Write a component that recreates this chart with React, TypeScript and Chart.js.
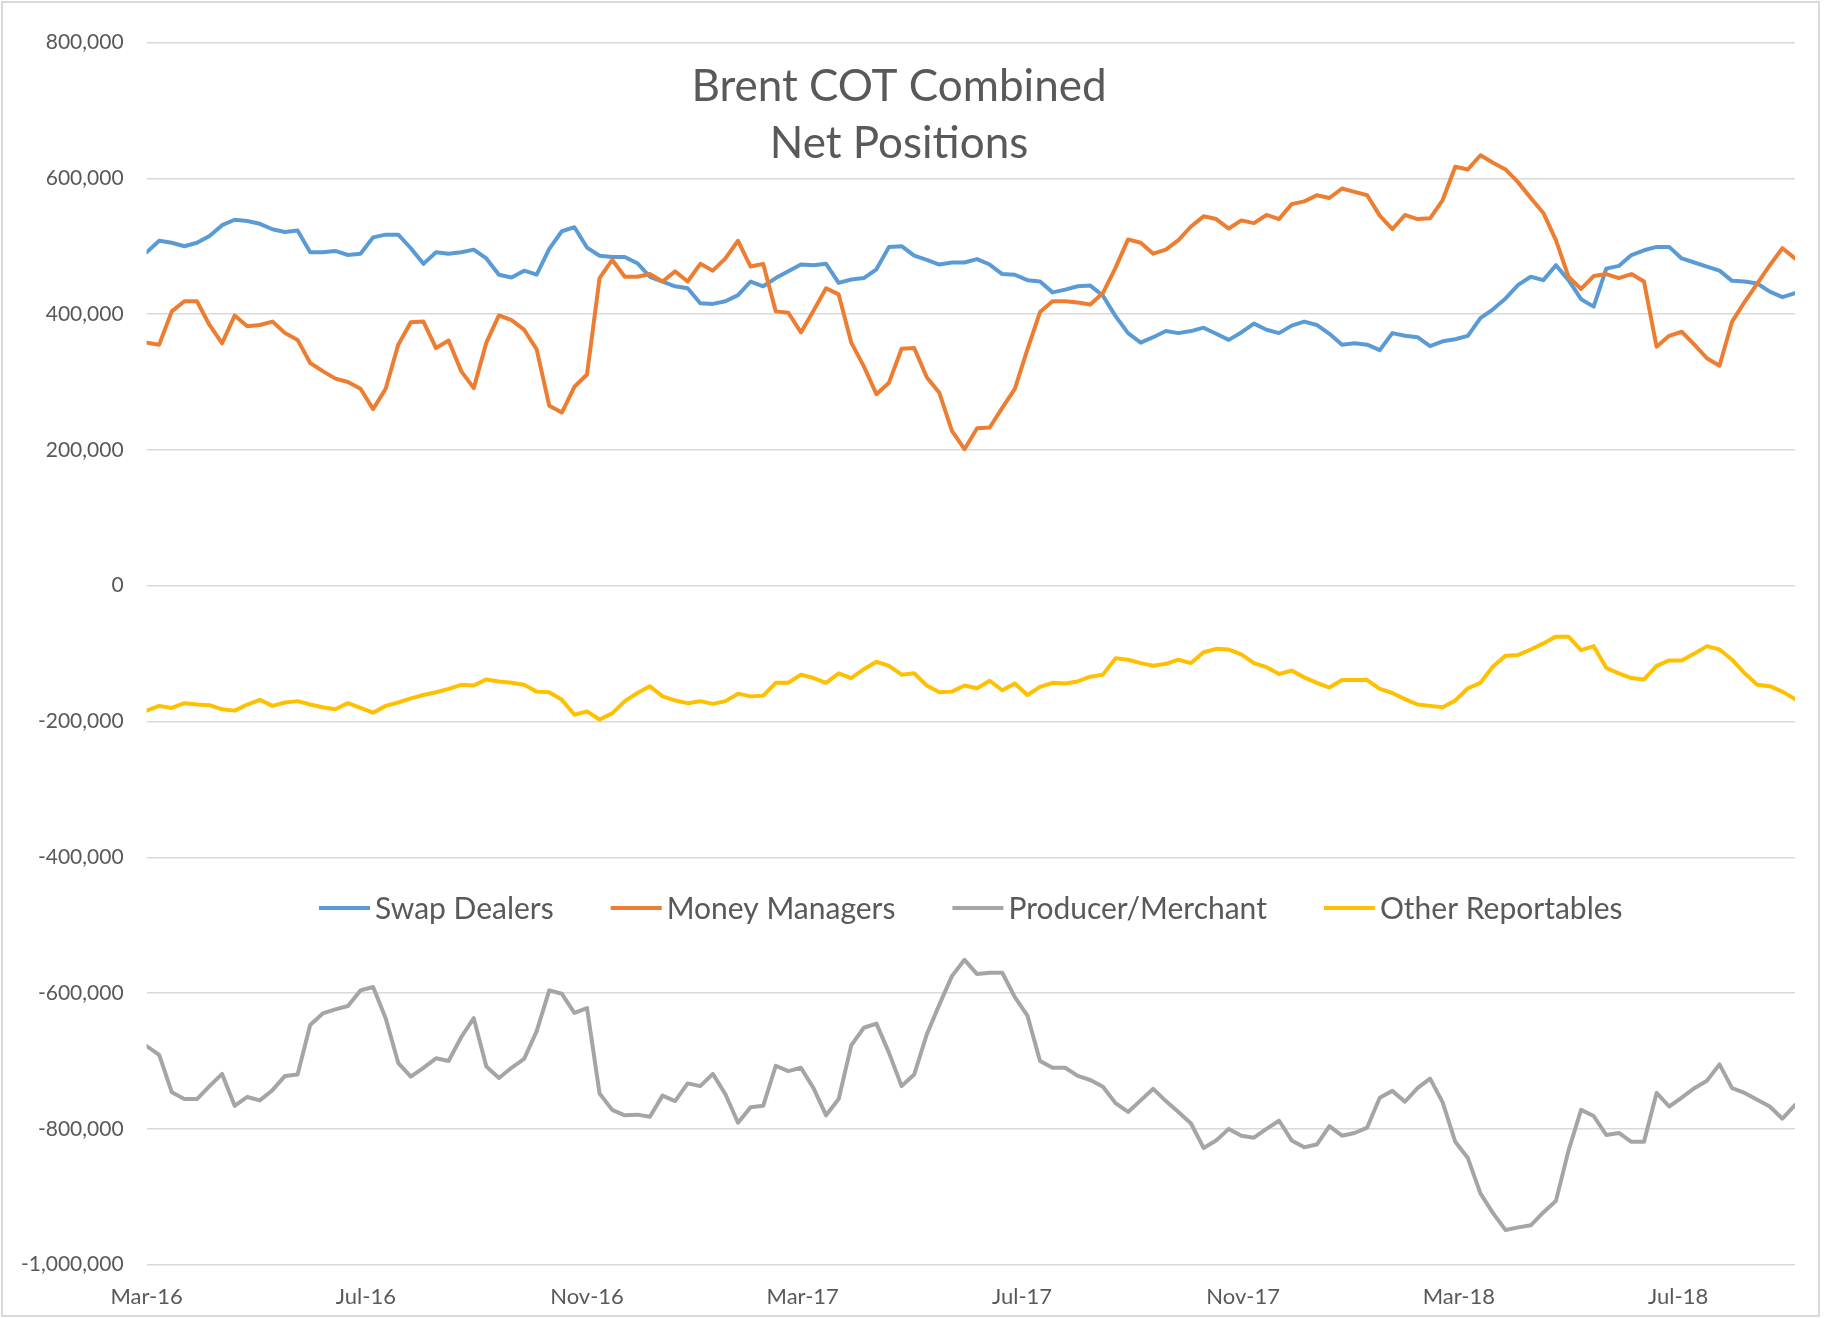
import React, { useEffect, useRef } from 'react';
import { Chart, registerables } from 'chart.js';

Chart.register(...registerables);

// ---------- data (net positions, thousands of lots, weekly from first week) ----------
const firstWeek = '2016-03-01';
const xTickLabels = ['Mar-16', 'Jul-16', 'Nov-16', 'Mar-17', 'Jul-17', 'Nov-17', 'Mar-18', 'Jul-18'];
const yAxisMin = -1000000;
const yAxisMax = 800000;
const yAxisStep = 200000;
const titleLines = ['Brent COT Combined', 'Net Positions'];
const seriesNames = ['Swap Dealers', 'Money Managers', 'Producer/Merchant', 'Other Reportables'];
const seriesColors = ['#5B9BD5', '#ED7D31', '#A5A5A5', '#FFC000'];

const swapDealers = [
  491, 508, 505, 500, 505, 515, 531, 539, 537, 533,
  525, 521, 523, 491, 491, 493, 487, 489, 513, 517,
  517, 497, 474, 491, 489, 491, 495, 482, 458, 454,
  464, 458, 496, 522, 528, 498, 486, 484, 484, 475,
  455, 448, 441, 438, 416, 415, 419, 428, 448, 441,
  453, 463, 473, 472, 474, 446, 451, 453, 466, 499,
  500, 486, 480, 473, 476, 476, 481, 473, 459, 458,
  450, 448, 432, 436, 441, 442, 427, 397, 372, 358,
  366, 375, 372, 375, 380, 371, 362, 373, 386, 377,
  372, 383, 389, 384, 371, 355, 357, 355, 347, 372,
  368, 366, 353, 360, 363, 368, 394, 407, 423, 443,
  455, 450, 472, 450, 422, 411, 467, 471, 487, 494,
  499, 499, 482, 476, 470, 464, 449, 448, 445, 433,
  425, 431,
];

const moneyManagers = [
  358, 355, 404, 419, 419, 384, 357, 398, 382, 384,
  389, 372, 362, 328, 316, 305, 300, 290, 260, 290,
  355, 388, 389, 350, 361, 316, 291, 358, 398, 391,
  377, 348, 265, 255, 293, 311, 453, 480, 455, 455,
  459, 448, 463, 448, 474, 464, 482, 508, 470, 474,
  404, 402, 373, 405, 438, 429, 358, 323, 282, 299,
  349, 350, 307, 284, 228, 201, 232, 233, 262, 290,
  348, 403, 419, 419, 417, 414, 431, 468, 510, 505,
  489, 495, 509, 529, 544, 540, 526, 538, 534, 546,
  540, 562, 566, 575, 571, 585, 580, 575, 545, 525,
  546, 540, 541, 568, 617, 613, 634, 623, 613, 594,
  571, 549, 509, 455, 437, 456, 459, 453, 459, 448,
  352, 368, 374, 355, 335, 324, 389, 418, 445, 472,
  497, 482,
];

const producerMerchant = [
  -678, -691, -746, -756, -756, -737, -719, -766, -753, -758,
  -743, -722, -720, -647, -630, -624, -619, -596, -591, -637,
  -703, -723, -710, -696, -700, -665, -637, -708, -725, -710,
  -697, -656, -596, -601, -629, -622, -748, -772, -780, -779,
  -782, -751, -759, -733, -737, -719, -749, -791, -768, -766,
  -707, -715, -710, -740, -780, -756, -677, -651, -645, -688,
  -737, -720, -661, -617, -575, -551, -572, -570, -570, -606,
  -633, -700, -710, -710, -722, -728, -738, -762, -775, -758,
  -741, -759, -775, -792, -828, -817, -800, -810, -813, -800,
  -788, -817, -827, -823, -796, -810, -806, -798, -754, -744,
  -760, -740, -726, -761, -819, -843, -895, -924, -949, -945,
  -942, -923, -906, -832, -772, -781, -809, -806, -819, -819,
  -747, -767, -754, -740, -729, -705, -740, -747, -757, -767,
  -785, -765,
];

const otherReportables = [
  -184, -177, -180, -173, -175, -176, -182, -184, -175, -168,
  -177, -172, -170, -175, -179, -182, -173, -180, -187, -177,
  -172, -166, -161, -157, -152, -146, -147, -138, -141, -143,
  -146, -156, -157, -168, -190, -185, -197, -188, -170, -158,
  -148, -163, -169, -173, -170, -174, -170, -159, -163, -162,
  -143, -143, -131, -136, -143, -129, -136, -123, -112, -118,
  -131, -129, -147, -157, -156, -147, -151, -140, -154, -144,
  -161, -149, -143, -144, -141, -134, -131, -107, -109, -114,
  -118, -115, -109, -114, -98, -93, -94, -101, -114, -120,
  -130, -125, -135, -143, -150, -139, -139, -139, -152, -158,
  -167, -175, -177, -179, -169, -151, -143, -119, -103, -102,
  -94, -85, -75, -75, -95, -89, -121, -129, -136, -138,
  -118, -110, -110, -100, -89, -94, -109, -129, -146, -148,
  -156, -167,
];

const seriesValues = [swapDealers, moneyManagers, producerMerchant, otherReportables];

// ---------- helpers ----------
const MONTHS = ['Jan', 'Feb', 'Mar', 'Apr', 'May', 'Jun', 'Jul', 'Aug', 'Sep', 'Oct', 'Nov', 'Dec'];
const DAY = 86400000;
const startMs = Date.parse(firstWeek + 'T00:00:00Z');
const labelToDay = (lbl: string) => {
  const [m, y] = lbl.split('-');
  return Math.round((Date.UTC(2000 + Number(y), MONTHS.indexOf(m), 1) - startMs) / DAY);
};
const xTickDays = xTickLabels.map(labelToDay);
const weekDay = (i: number) => i * 7;

const FONT = 'Lato, "Open Sans", "DejaVu Sans", sans-serif';
const TEXT_COLOR = '#595959';

const overlayPlugin = {
  id: 'overlayTitleLegend',
  afterDatasetsDraw(chart: any) {
    const { ctx, chartArea } = chart;
    ctx.save();
    ctx.fillStyle = TEXT_COLOR;
    // title
    ctx.font = `44px ${FONT}`;
    ctx.textAlign = 'center';
    ctx.textBaseline = 'alphabetic';
    titleLines.forEach((t, k) => ctx.fillText(t, 899, 101 + k * 57));
    // legend (inside the plot)
    ctx.font = `30px ${FONT}`;
    const sample = 51;
    const gap = 5;
    const spacing = 57;
    const items = chart.data.datasets.map((ds: any) => ({
      label: ds.label,
      color: ds.borderColor,
      w: ctx.measureText(ds.label).width,
    }));
    const total =
      items.reduce((s: number, it: any) => s + sample + gap + it.w, 0) + spacing * (items.length - 1);
    let x = (chartArea.left + chartArea.right) / 2 - total / 2;
    const y = 908;
    ctx.textAlign = 'left';
    ctx.textBaseline = 'middle';
    items.forEach((it: any) => {
      ctx.strokeStyle = it.color;
      ctx.lineWidth = 4;
      ctx.lineCap = 'butt';
      ctx.beginPath();
      ctx.moveTo(x, y);
      ctx.lineTo(x + sample, y);
      ctx.stroke();
      ctx.fillStyle = TEXT_COLOR;
      ctx.fillText(it.label, x + sample + gap, y + 1);
      x += sample + gap + it.w + spacing;
    });
    ctx.restore();
  },
};

export default function App() {
  const canvasRef = useRef<HTMLCanvasElement | null>(null);

  useEffect(() => {
    if (!canvasRef.current) return;
    const datasets = seriesValues.map((vals, k) => ({
      label: seriesNames[k],
      data: vals.map((v, i) => ({ x: weekDay(i), y: v * 1000 })),
      borderColor: seriesColors[k],
      backgroundColor: seriesColors[k],
      borderWidth: 4,
      pointRadius: 0,
      tension: 0,
      fill: false,
      borderJoinStyle: 'round' as const,
      borderCapStyle: 'round' as const,
      order: seriesValues.length - k,
    }));
    const lastDay = weekDay(swapDealers.length - 1);

    const chart = new Chart(canvasRef.current, {
      type: 'line',
      data: { datasets },
      plugins: [overlayPlugin],
      options: {
        animation: false,
        responsive: false,
        maintainAspectRatio: false,
        devicePixelRatio: 1,
        layout: { padding: { top: 42.5, right: 30, left: 0, bottom: 0 } },
        plugins: {
          legend: { display: false },
          tooltip: { enabled: false },
          title: { display: false },
        },
        scales: {
          x: {
            type: 'linear',
            min: 0,
            max: lastDay,
            grid: { display: false },
            border: { display: false },
            afterFit: (scale: any) => {
              scale.height = 53.3;
            },
            afterBuildTicks: (scale: any) => {
              scale.ticks = xTickDays.map((v) => ({ value: v }));
            },
            ticks: {
              autoSkip: false,
              maxRotation: 0,
              minRotation: 0,
              padding: 11,
              color: TEXT_COLOR,
              font: { family: FONT, size: 22 },
              callback: (v: any) => {
                const idx = xTickDays.indexOf(Number(v));
                return idx >= 0 ? xTickLabels[idx] : '';
              },
            },
          },
          y: {
            min: yAxisMin,
            max: yAxisMax,
            grid: { color: '#D9D9D9', lineWidth: 1.5, drawTicks: false },
            border: { display: false },
            afterFit: (scale: any) => {
              scale.width = 146.6;
            },
            ticks: {
              stepSize: yAxisStep,
              padding: 23,
              color: TEXT_COLOR,
              font: { family: FONT, size: 21 },
              callback: (v: any) => Number(v).toLocaleString('en-US'),
            },
          },
        },
      },
    });
    return () => chart.destroy();
  }, []);

  return (
    <div
      style={{
        position: 'absolute',
        left: 0,
        top: 0,
        width: 1825,
        height: 1318,
        background: '#ffffff',
        overflow: 'hidden',
      }}
    >
      <canvas
        ref={canvasRef}
        width={1825}
        height={1318}
        style={{ position: 'absolute', left: 0, top: 0, width: 1825, height: 1318 }}
      />
      <div
        style={{
          position: 'absolute',
          left: 1,
          top: 1,
          width: 1819,
          height: 1316,
          border: '2px solid #D9D9D9',
          boxSizing: 'border-box',
          pointerEvents: 'none',
        }}
      />
    </div>
  );
}
